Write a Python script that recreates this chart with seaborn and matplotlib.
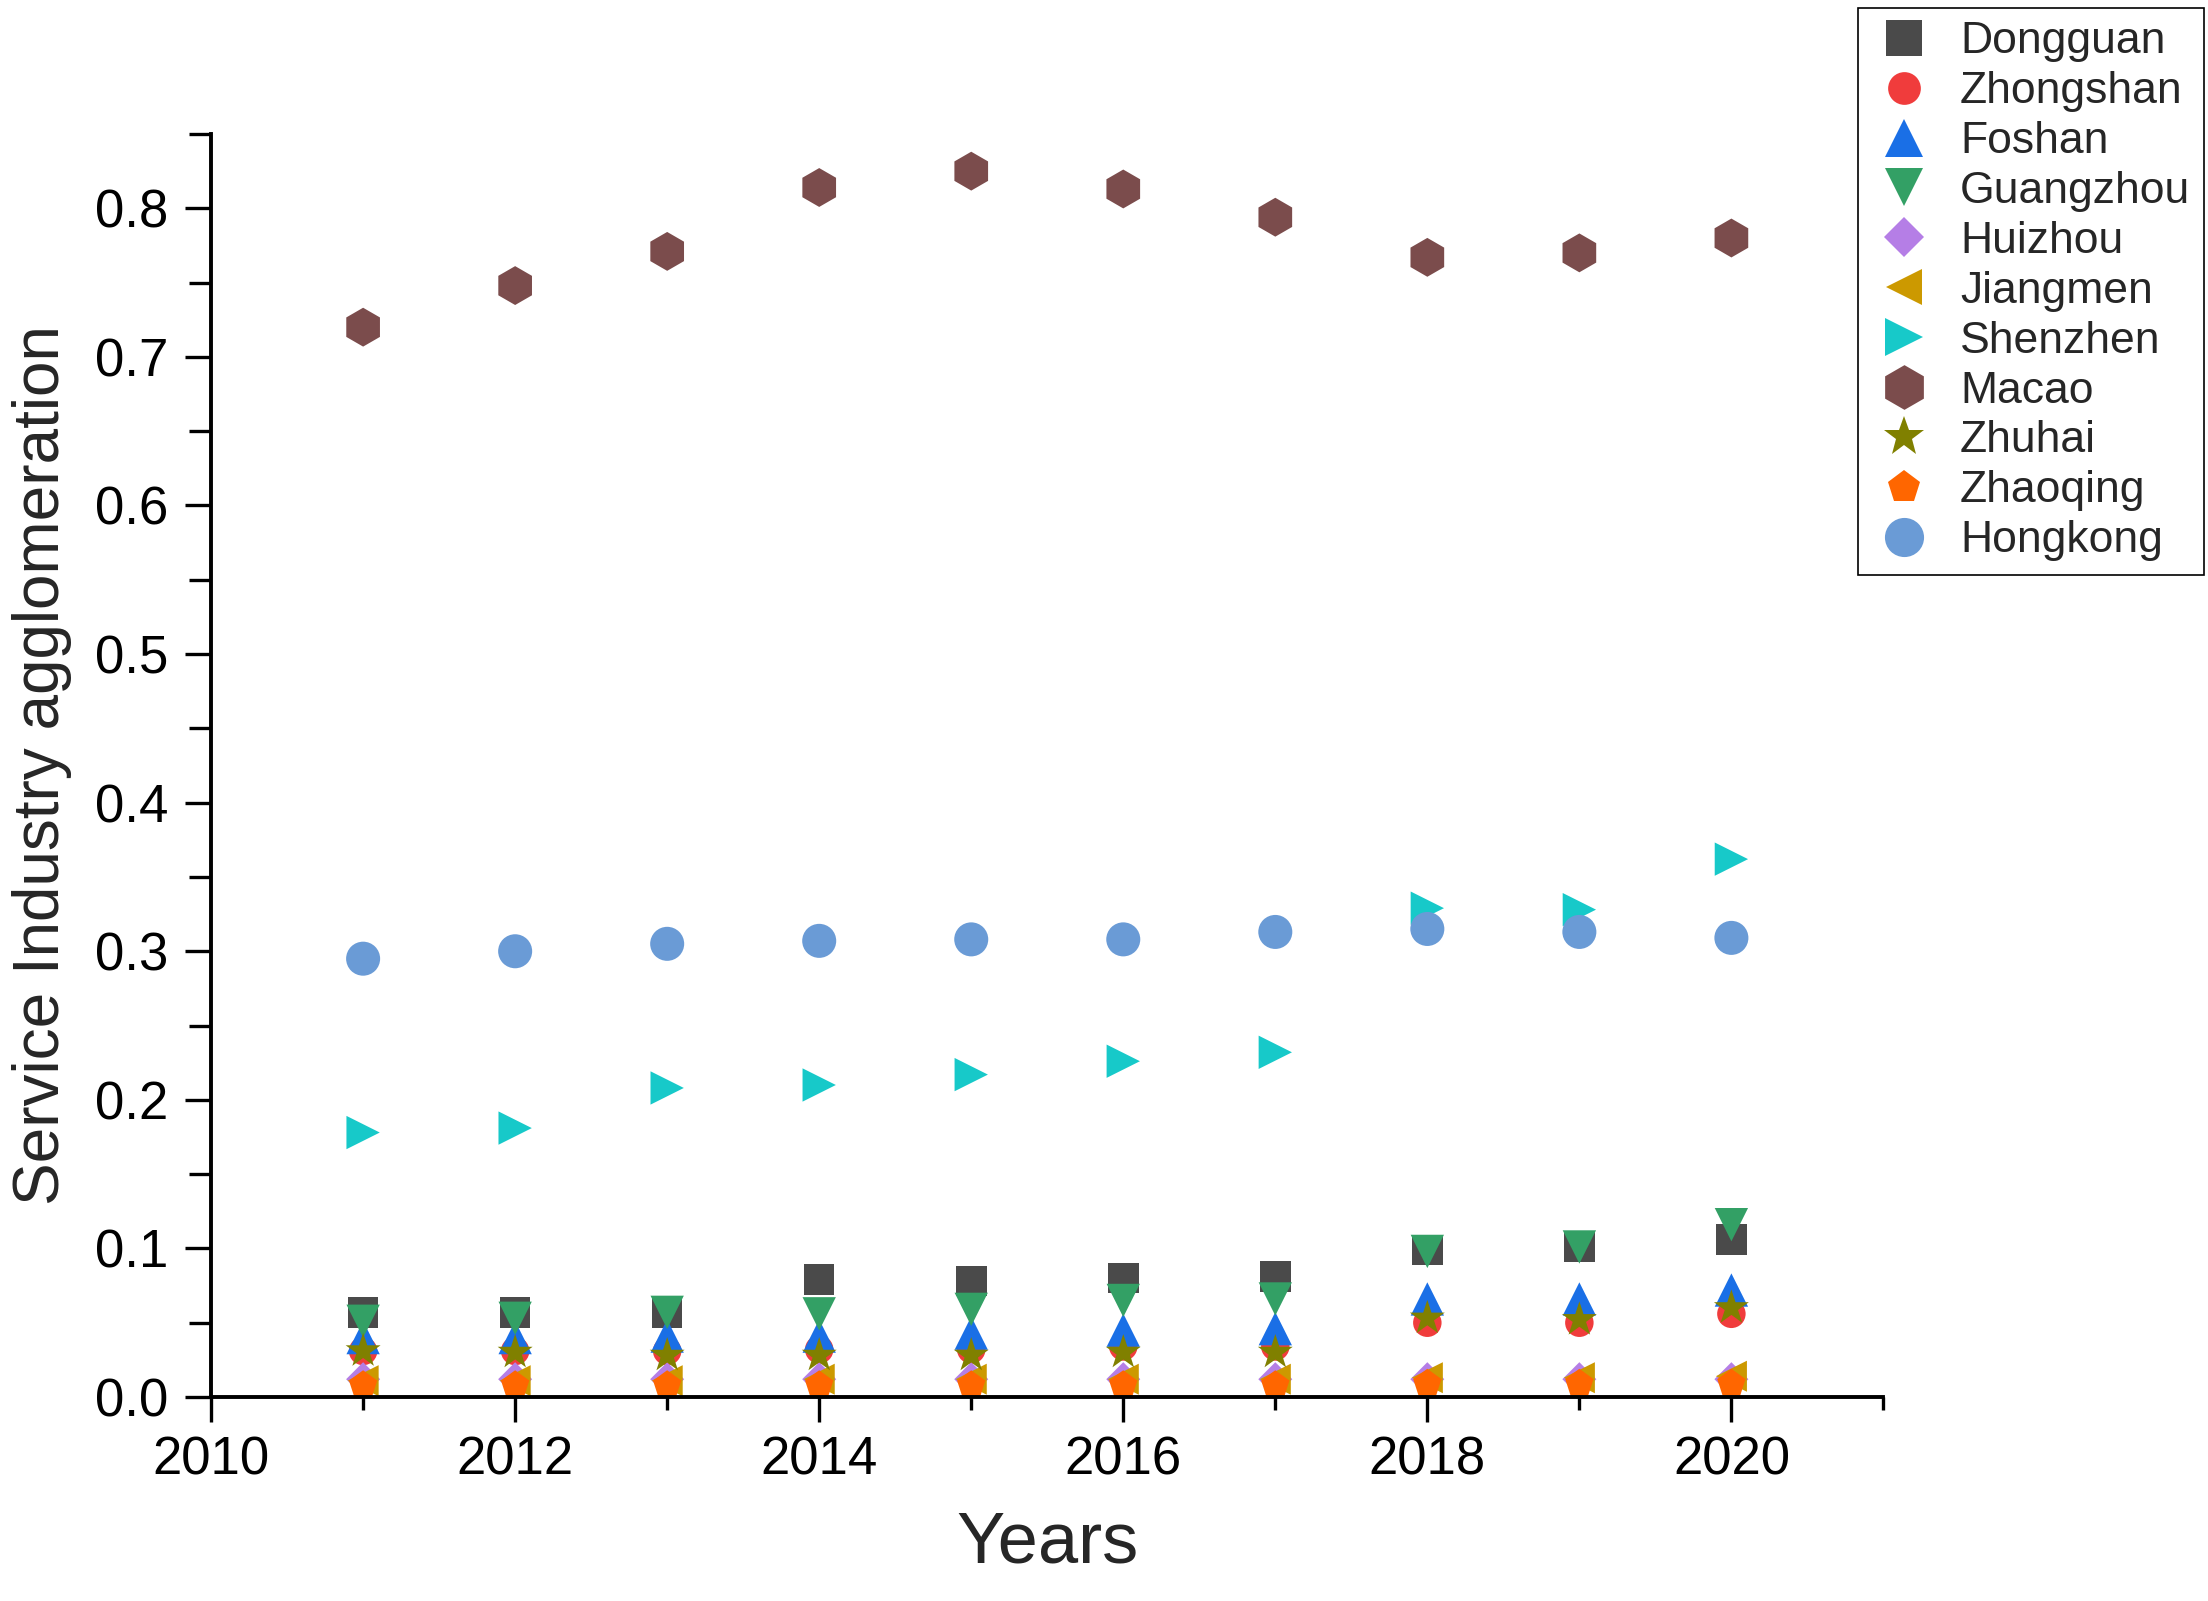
import numpy as np
import pandas as pd
import matplotlib
matplotlib.use("Agg")
import matplotlib.pyplot as plt
import seaborn as sns
from matplotlib.ticker import MultipleLocator

years = [2011, 2012, 2013, 2014, 2015, 2016, 2017, 2018, 2019, 2020]

cities = ["Dongguan", "Zhongshan", "Foshan", "Guangzhou", "Huizhou", "Jiangmen",
          "Shenzhen", "Macao", "Zhuhai", "Zhaoqing", "Hongkong"]

dongguan  = [0.057, 0.057, 0.057, 0.079, 0.078, 0.080, 0.081, 0.099, 0.101, 0.106]
zhongshan = [0.031, 0.031, 0.031, 0.032, 0.032, 0.034, 0.034, 0.050, 0.050, 0.056]
foshan    = [0.040, 0.040, 0.041, 0.041, 0.043, 0.045, 0.046, 0.066, 0.066, 0.072]
guangzhou = [0.051, 0.053, 0.057, 0.056, 0.059, 0.065, 0.066, 0.098, 0.101, 0.116]
huizhou   = [0.012, 0.012, 0.012, 0.012, 0.012, 0.012, 0.012, 0.012, 0.012, 0.012]
jiangmen  = [0.011, 0.011, 0.011, 0.012, 0.012, 0.012, 0.012, 0.013, 0.013, 0.014]
shenzhen  = [0.178, 0.181, 0.208, 0.210, 0.217, 0.226, 0.232, 0.329, 0.328, 0.362]
macao     = [0.720, 0.748, 0.771, 0.814, 0.825, 0.813, 0.794, 0.767, 0.770, 0.780]
zhuhai    = [0.031, 0.030, 0.028, 0.028, 0.028, 0.030, 0.030, 0.053, 0.052, 0.060]
zhaoqing  = [0.008, 0.008, 0.008, 0.008, 0.008, 0.008, 0.008, 0.009, 0.009, 0.009]
hongkong  = [0.295, 0.300, 0.305, 0.307, 0.308, 0.308, 0.313, 0.315, 0.313, 0.309]

series = [dongguan, zhongshan, foshan, guangzhou, huizhou, jiangmen,
          shenzhen, macao, zhuhai, zhaoqing, hongkong]

colors = ["#4a4a4a", "#f03c3c", "#1a6fe6", "#33a065", "#b57ee6", "#cc9900",
          "#17c9c9", "#7b4c4c", "#808000", "#ff6600", "#6a9bd6"]
markers = ["s", "o", "^", "v", "D", "<", ">", "h", "*", "p", "o"]
marker_areas = [484, 420, 576, 576, 300, 500, 576, 784, 700, 460, 600]

rows = []
for c, vals in zip(cities, series):
    for y, v in zip(years, vals):
        rows.append({"Year": y, "Value": v, "City": c})
df = pd.DataFrame(rows)

sns.set_style("ticks")
plt.rcParams["font.family"] = ["Liberation Sans", "DejaVu Sans"]

fig = plt.figure(figsize=(22.08, 16.01), dpi=100)
ax = fig.add_axes([0.0956, 0.1274, 0.7574, 0.7889])

pal = dict(zip(cities, colors))
mk = dict(zip(cities, markers))
sz = dict(zip(cities, marker_areas))
sns.scatterplot(data=df, x="Year", y="Value", hue="City", style="City", size="City",
                hue_order=cities, style_order=cities, size_order=cities,
                palette=pal, markers=mk, sizes=sz,
                edgecolor="none", linewidth=0, ax=ax, legend=True)

ax.set_xlim(2010, 2021)
ax.set_ylim(0, 0.85)
ax.xaxis.set_major_locator(MultipleLocator(2))
ax.xaxis.set_minor_locator(MultipleLocator(1))
ax.yaxis.set_minor_locator(MultipleLocator(0.05))
yt = np.arange(0, 0.81, 0.1)
ax.set_yticks(yt)
ax.set_yticklabels([f"{v:.1f}" for v in yt])

for side in ["top", "right"]:
    ax.spines[side].set_visible(False)
for side in ["left", "bottom"]:
    ax.spines[side].set_linewidth(2.8)
    ax.spines[side].set_color("black")

ax.tick_params(axis="both", which="both", direction="out", width=2.4,
               labelsize=38, colors="black")
ax.tick_params(axis="x", which="major", length=18, pad=10)
ax.tick_params(axis="x", which="minor", length=9)
ax.tick_params(axis="y", which="major", length=19, pad=12)
ax.tick_params(axis="y", which="minor", length=16)

ax.set_xlabel("Years", fontsize=52, labelpad=18)
ax.set_ylabel("Service Industry agglomeration", fontsize=46, labelpad=16)

handles, labels = ax.get_legend_handles_labels()
ax.legend(handles, labels, loc="upper right", bbox_to_anchor=(0.998, 0.995),
          bbox_transform=fig.transFigure, fontsize=32, frameon=True,
          fancybox=False, edgecolor="black", framealpha=1, labelspacing=0.2,
          handletextpad=0.5, handlelength=1.5, borderpad=0.3, markerscale=1.15,
          borderaxespad=0)
leg = ax.get_legend()
leg.get_frame().set_linewidth(1.2)

fig.savefig("out.png", dpi=100)
